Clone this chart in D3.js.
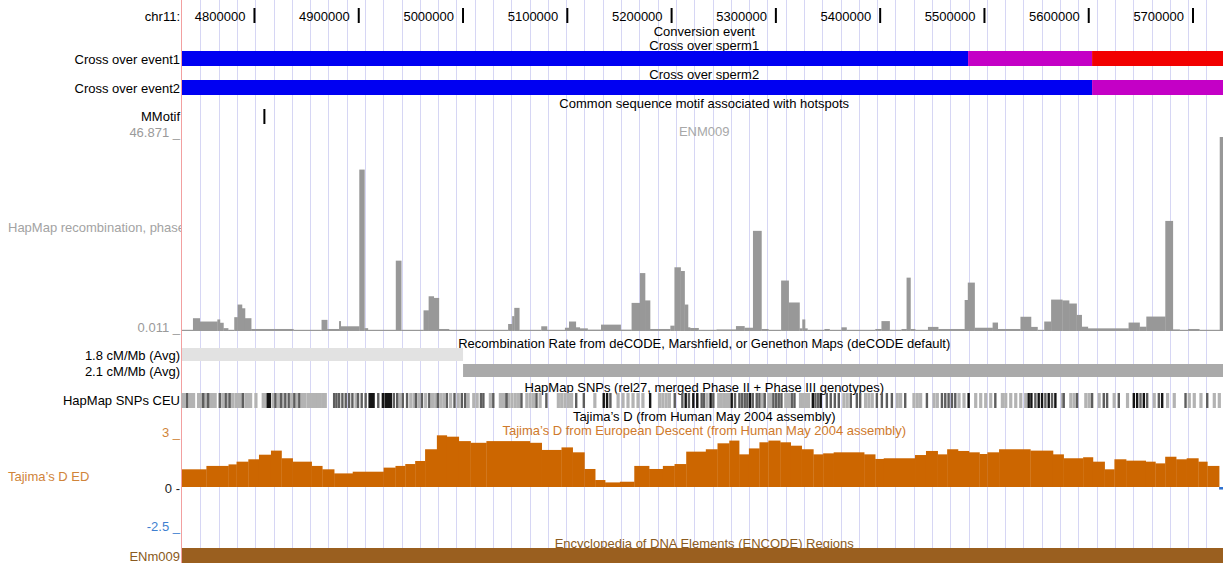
<!DOCTYPE html>
<html>
<head>
<meta charset="utf-8">
<script src="https://cdn.jsdelivr.net/npm/d3@7"></script>
<style>
  body { margin: 0; background: #fff; }
  svg { display: block; }
  text { font-family: "Liberation Sans", Arial, Helvetica, sans-serif; font-size: 13px; }
</style>
</head>
<body>
<svg id="chart" width="1223" height="563"></svg>
<script>
// ---------------- DATA ----------------
const chrom = "chr11";
const regionStart = 4730996;
const regionEnd = 5732587;
const axisTicks = [4800000, 4900000, 5000000, 5100000, 5200000, 5300000, 5400000, 5500000, 5600000, 5700000];

// Cross-over tracks (segment starts in bp, state of each segment)
const cross1Starts = [4730996, 5484800, 5603700];
const cross1States = ["parental", "conversion", "crossover"];
const cross2Starts = [4730996, 5603700];
const cross2States = ["parental", "conversion"];

// Common sequence motif associated with hotspots
const motifSites = [4810000];

// HapMap recombination rate (bin starts in kb, values)
const recombStartsKb = [4731.0, 4741.5, 4748.0, 4764.9, 4767.4, 4770.7, 4775.2, 4781.1, 4784.3, 4788.5,
  4791.4, 4797.3, 4837.8, 4864.8, 4870.2, 4881.6, 4883.2, 4901.0, 4905.9, 4909.2,
  4936.0, 4941.2, 4962.6, 4967.5, 4972.4, 4977.3, 4987.0, 5043.7, 5047.6, 5049.6,
  5054.4, 5075.5, 5081.0, 5098.2, 5102.1, 5108.6, 5112.4, 5119.9, 5132.8, 5151.6,
  5162.1, 5170.1, 5175.0, 5179.8, 5199.3, 5203.2, 5209.1, 5212.9, 5216.2, 5218.2,
  5226.3, 5243.6, 5262.2, 5270.3, 5278.5, 5286.6, 5293.2, 5305.5, 5312.7, 5323.1,
  5325.8, 5328.4, 5330.7, 5347.0, 5351.9, 5363.3, 5368.2, 5395.8, 5401.7, 5409.5,
  5420.9, 5425.8, 5429.5, 5434.0, 5446.3, 5456.1, 5481.5, 5484.5, 5491.0, 5508.3,
  5513.2, 5535.0, 5545.1, 5551.3, 5557.8, 5564.4, 5575.1, 5581.6, 5588.8, 5593.7,
  5599.6, 5638.7, 5649.2, 5655.7, 5673.9, 5681.1, 5687.6, 5695.8, 5706.5, 5726.1];
const recombValues = [0.3, 3.1, 2.3, 2.8, 2.0, 0.7, 0.05, 3.35, 6.4, 5.5,
  3.1, 0.5, 0.1, 2.7, 0.5, 2.4, 1.15, 39.0, 0.7, 0.1,
  17.0, 0.1, 5.0, 8.4, 8.0, 0.5, 0.05, 1.7, 3.6, 5.6,
  0.2, 1.15, 0.1, 0.8, 2.3, 0.9, 0.65, 0.35, 1.55, 0.35,
  6.8, 14.0, 7.4, 0.5, 1.3, 15.4, 14.5, 6.4, 0.9, 0.74,
  0.08, 0.4, 1.2, 0.8, 24.2, 0.5, 0.1, 12.2, 6.9, 0.65,
  2.8, 0.65, 0.1, 0.5, 0.1, 0.9, 0.1, 0.5, 2.4, 0.1,
  0.5, 12.9, 0.5, 0.25, 1.0, 0.5, 7.5, 11.7, 0.8, 2.05,
  0.5, 3.45, 1.0, 0.25, 2.3, 7.6, 7.4, 6.65, 3.9, 1.05,
  0.65, 2.05, 1.05, 3.5, 26.6, 0.4, 0.1, 0.5, 0.1, 46.871];
const recombMin = 0.011, recombMax = 46.871;

// deCODE recombination rate averages
const decodeLabels = ["1.8 cM/Mb (Avg)", "2.1 cM/Mb (Avg)"];
const decodeRates = [1.8, 2.1];
const decodeStarts = [4730996, 5000500];
const decodeEnds = [5000500, 5732587];

// HapMap SNPs CEU (positions in kb, shade 0 = light, 1 = dark, 2 = black)
const snpKb = [4731.6, 4732.9, 4734.2, 4736.1, 4738.6, 4740.2, 4741.8, 4746.6, 4748.2, 4749.8,
  4751.4, 4753.0, 4754.5, 4756.1, 4757.7, 4759.3, 4760.9, 4762.5, 4767.3, 4769.8,
  4773.0, 4775.2, 4776.8, 4779.3, 4782.5, 4784.7, 4787.0, 4789.5, 4792.1, 4794.3,
  4796.5, 4801.6, 4808.6, 4811.1, 4813.4, 4814.3, 4815.3, 4818.1, 4820.7, 4823.2,
  4826.1, 4828.3, 4830.2, 4833.4, 4835.6, 4838.8, 4841.0, 4843.6, 4846.1, 4848.4,
  4851.5, 4853.8, 4856.3, 4858.8, 4861.1, 4863.3, 4865.8, 4868.1, 4877.0, 4879.2,
  4881.7, 4884.9, 4888.1, 4891.3, 4894.5, 4897.6, 4899.9, 4903.4, 4907.2, 4911.0,
  4912.3, 4913.5, 4914.8, 4919.3, 4923.7, 4926.3, 4927.5, 4928.8, 4930.1, 4931.3,
  4934.2, 4937.4, 4939.6, 4942.8, 4946.9, 4950.1, 4953.3, 4955.5, 4958.1, 4961.2,
  4964.4, 4968.2, 4970.8, 4974.0, 4976.5, 4979.0, 4981.9, 4985.1, 4988.3, 4992.4,
  4995.6, 4999.4, 5002.6, 5005.1, 5010.5, 5013.7, 5017.8, 5020.1, 5026.4, 5029.6,
  5036.0, 5038.2, 5040.7, 5042.3, 5043.9, 5047.1, 5050.3, 5053.5, 5056.6, 5061.4,
  5064.6, 5067.8, 5071.0, 5074.1, 5080.5, 5091.6, 5094.8, 5098.0, 5101.2, 5104.3,
  5109.1, 5116.4, 5126.6, 5135.5, 5138.7, 5141.9, 5148.9, 5153.6, 5158.4, 5163.2,
  5168.0, 5172.7, 5180.0, 5188.6, 5191.8, 5195.0, 5198.1, 5203.6, 5210.9, 5214.1,
  5217.2, 5221.4, 5225.2,
  5229.4, 5231.6, 5234.2, 5238.0, 5240.6, 5245.4, 5247.6, 5250.2, 5252.8, 5255.0,
  5258.2, 5261.4, 5265.6, 5268.1, 5270.7, 5273.2, 5275.8, 5278.4, 5282.2, 5284.8,
  5287.3, 5289.9, 5293.4, 5295.6, 5298.2, 5300.8, 5303.3, 5305.9, 5309.7, 5312.3,
  5315.8, 5318.4, 5323.8, 5326.4, 5328.9, 5331.5, 5336.0, 5338.5, 5341.1, 5343.6,
  5349.4, 5353.2, 5357.1, 5360.9, 5365.4, 5368.6, 5372.4, 5378.2, 5381.4, 5386.2,
  5389.4, 5392.6, 5397.4, 5402.2, 5407.0, 5411.8, 5416.6, 5419.8, 5424.6, 5432.6,
  5435.8, 5439.0, 5445.4, 5451.8, 5455.0, 5459.8, 5463.0, 5466.2, 5469.4, 5472.6,
  5475.8, 5480.6, 5485.4, 5491.8, 5496.6, 5501.4, 5506.2, 5511.0, 5517.4, 5520.6,
  5525.4, 5530.2, 5535.0, 5539.8, 5543.0, 5545.6, 5549.4, 5552.6, 5555.8, 5559.0,
  5562.2, 5565.4, 5568.6, 5575.0, 5576.6, 5583.0, 5586.2, 5589.4, 5597.4, 5600.6,
  5603.8, 5610.2, 5615.0, 5618.2, 5624.6, 5629.4, 5637.4, 5643.8, 5647.0, 5650.2,
  5653.4, 5656.6, 5663.0, 5667.8, 5671.0, 5675.8, 5682.2, 5693.4, 5696.6, 5701.4,
  5707.8, 5714.2, 5720.6, 5725.4];
const snpShade = [0, 0, 0, 1, 0, 0, 0, 0, 0, 0,
  1, 0, 0, 1, 0, 0, 0, 0, 1, 0,
  1, 0, 1, 0, 0, 0, 0, 1, 0, 0,
  0, 0, 0, 0, 2, 2, 2, 0, 1, 0,
  1, 0, 1, 1, 0, 1, 0, 1, 0, 0,
  0, 0, 0, 0, 0, 0, 0, 0, 1, 1,
  1, 1, 1, 1, 1, 0, 1, 1, 1, 2,
  2, 2, 2, 1, 2, 2, 2, 2, 2, 2,
  1, 1, 0, 1, 1, 0, 0, 1, 0, 1,
  0, 1, 0, 0, 1, 0, 0, 1, 0, 1,
  0, 1, 1, 0, 0, 0, 1, 1, 0, 1,
  0, 0, 0, 1, 0, 0, 0, 0, 1, 0,
  0, 0, 1, 0, 1, 0, 0, 0, 0, 0,
  1, 1, 0, 2, 2, 1, 0, 0, 0, 0,
  0, 0, 2, 0, 0, 0, 0, 1, 1, 2,
  1, 2, 2,
  1, 1, 0, 2, 1, 0, 0, 0, 0, 0,
  2, 1, 1, 1, 1, 1, 2, 1, 1, 1,
  0, 1, 0, 0, 1, 1, 1, 1, 0, 0,
  1, 1, 0, 0, 0, 0, 2, 1, 1, 2,
  1, 1, 1, 1, 0, 0, 1, 1, 1, 0,
  0, 0, 1, 1, 1, 1, 0, 0, 1, 0,
  0, 0, 1, 0, 0, 1, 1, 1, 1, 1,
  0, 0, 2, 0, 0, 0, 0, 1, 0, 0,
  0, 0, 0, 0, 2, 2, 1, 2, 2, 1,
  2, 1, 2, 0, 1, 0, 0, 1, 0, 0,
  1, 0, 1, 1, 0, 1, 0, 2, 2, 1,
  2, 1, 0, 1, 2, 0, 0, 1, 0, 0,
  0, 1, 0, 0];

// Tajima's D, European descent (bin starts in kb, values)
const tajimaStartsKb = [4731.0, 4754.4, 4775.6, 4783.3, 4794.6, 4804.8, 4816.3, 4826.4, 4837.1, 4855.3,
  4865.5, 4876.9, 4894.7, 4924.3, 4935.7, 4945.1, 4954.6, 4964.1, 4975.4, 4984.9,
  4996.4, 5007.7, 5022.9, 5064.6, 5075.9, 5094.9, 5105.6, 5116.9, 5127.2, 5136.7,
  5150.9, 5164.7, 5178.9, 5192.1, 5203.3, 5214.5, 5233.3, 5244.5, 5255.8, 5265.2,
  5274.6, 5284.7, 5293.3, 5304.6, 5314.7, 5325.2, 5336.4, 5345.8, 5355.9, 5385.1,
  5395.7, 5403.9, 5433.9, 5444.4, 5455.6, 5464.7, 5475.1, 5485.6, 5495.7, 5503.3,
  5514.5, 5544.5, 5566.2, 5576.4, 5595.1, 5604.5, 5615.7, 5625.1, 5636.3, 5655.1,
  5664.4, 5673.8, 5684.3, 5694.4, 5705.6, 5714.2, 5725.5];
const tajimaValues = [1.04, 1.24, 1.33, 1.49, 1.63, 1.9, 2.14, 1.69, 1.49, 1.24,
  1.04, 0.8, 0.9, 1.14, 1.24, 1.35, 1.53, 2.22, 3.04, 2.96,
  2.7, 2.6, 2.7, 2.6, 2.18, 2.33, 2.04, 1.06, 0.41, 0.27,
  0.31, 1.24, 1.06, 1.24, 1.35, 2.08, 2.22, 2.57, 2.73, 1.92,
  2.27, 2.63, 2.73, 2.63, 2.43, 2.22, 1.92, 1.98, 2.04, 1.92,
  1.65, 1.69, 1.88, 2.12, 1.92, 2.22, 2.12, 2.04, 1.94, 2.04,
  2.22, 2.14, 1.92, 1.69, 1.75, 1.49, 1.04, 1.63, 1.55, 1.49,
  1.39, 1.78, 1.63, 1.69, 1.49, 1.24, -0.15];
const tajimaMax = 3, tajimaMin = -2.5;

// ENCODE region
const encodeNames = ["ENm009"];
const encodeStarts = [4730996];
const encodeEnds = [5732587];

// ---------------- DRAWING ----------------
const W = 1223, H = 563;
const svg = d3.select("#chart");
const x = d3.scaleLinear().domain([regionStart, regionEnd]).range([182, 1226.5]);
const midX = (x.range()[0] + x.range()[1]) / 2;
const FONT = '"Liberation Sans", Arial, Helvetica, sans-serif';

const defs = svg.append("defs");
defs.append("clipPath").attr("id", "leftClip").append("rect").attr("x", 0).attr("y", 0).attr("width", 181).attr("height", H);

// guidelines (every ~17.5 kb)
const guides = d3.range(4748641, regionEnd, 17539);
svg.append("g").selectAll("line").data(guides).join("line")
  .attr("x1", d => Math.round(x(d)) + 0.5).attr("x2", d => Math.round(x(d)) + 0.5)
  .attr("y1", 0).attr("y2", H)
  .attr("stroke", "#d6d6f4").attr("stroke-width", 1);

// left boundary line
svg.append("line").attr("x1", 181.5).attr("x2", 181.5).attr("y1", 0).attr("y2", H)
  .attr("stroke", "#f2a0a0").attr("stroke-width", 1);

function label(txt, xp, yp, opts = {}) {
  return svg.append("text").attr("x", xp).attr("y", yp)
    .attr("dy", "0.35em")
    .attr("text-anchor", opts.anchor || "end")
    .attr("fill", opts.color || "#000")
    .attr("font-size", opts.size || 13)
    .attr("clip-path", opts.clip || null)
    .text(txt);
}
function title(txt, yp, color) { return label(txt, midX, yp, { anchor: "middle", color: color || "#000" }); }

// Ruler
label(chrom + ":", 180, 16);
const axisG = svg.append("g").attr("transform", "translate(0,23)")
  .call(d3.axisTop(x).tickValues(axisTicks).tickFormat(d3.format("d")).tickSize(15).tickPadding(0));
axisG.select(".domain").remove();
axisG.selectAll(".tick line").attr("stroke", "#000").attr("stroke-width", 2);
axisG.selectAll(".tick text").attr("text-anchor", "end").attr("x", -9).attr("y", -7).attr("dy", "0.35em")
  .attr("font-size", 13).attr("font-family", FONT).attr("fill", "#000");

// Cross-over tracks
const stateColor = { parental: "#0000f2", conversion: "#c400c6", crossover: "#f20000" };
title("Conversion event", 31);
title("Cross over sperm1", 45);
label("Cross over event1", 180, 59);
const c1 = cross1Starts.map((s, i) => ({ s, e: i + 1 < cross1Starts.length ? cross1Starts[i + 1] : regionEnd, st: cross1States[i] }));
svg.append("g").selectAll("rect").data(c1).join("rect")
  .attr("x", d => x(d.s)).attr("width", d => x(d.e) - x(d.s))
  .attr("y", 51).attr("height", 15).attr("fill", d => stateColor[d.st]);
title("Cross over sperm2", 74);
label("Cross over event2", 180, 88);
const c2 = cross2Starts.map((s, i) => ({ s, e: i + 1 < cross2Starts.length ? cross2Starts[i + 1] : regionEnd, st: cross2States[i] }));
svg.append("g").selectAll("rect").data(c2).join("rect")
  .attr("x", d => x(d.s)).attr("width", d => x(d.e) - x(d.s))
  .attr("y", 80).attr("height", 15).attr("fill", d => stateColor[d.st]);

// Motif
title("Common sequence motif associated with hotspots", 103);
label("MMotif", 180, 116);
svg.append("g").selectAll("rect").data(motifSites).join("rect")
  .attr("x", d => x(d) - 1).attr("width", 2).attr("y", 109).attr("height", 15).attr("fill", "#000");

// HapMap recombination histogram
const yR = d3.scaleLinear().domain([recombMin, recombMax]).range([331, 137]).clamp(true);
label("46.871 _", 180, 132, { color: "#9a9a9a" });
label("0.011 _", 180, 327, { color: "#9a9a9a" });
label("ENM009", midX, 131, { anchor: "middle", color: "#a8a8a8" });
label("HapMap recombination, phase", 8, 227, { anchor: "start", color: "#a3a3a3", clip: "url(#leftClip)" });
const rb = recombStartsKb.map((s, i) => ({
  s: s * 1000, e: i + 1 < recombStartsKb.length ? recombStartsKb[i + 1] * 1000 : regionEnd, v: recombValues[i]
}));
svg.append("g").selectAll("rect").data(rb).join("rect")
  .attr("x", d => x(d.s)).attr("width", d => x(d.e) - x(d.s) + 0.3)
  .attr("y", d => Math.min(yR(d.v), yR(recombMin) - 1.2))
  .attr("height", d => Math.max(yR(recombMin) - yR(d.v), 1.2))
  .attr("fill", "#989898");

// deCODE recombination rate
title("Recombination Rate from deCODE, Marshfield, or Genethon Maps (deCODE default)", 343);
const rateShade = d3.scaleLinear().domain([1.8, 2.1]).range(["#e2e2e2", "#aaaaaa"]);
decodeRates.forEach((r, i) => {
  label(decodeLabels[i], 180, 355 + i * 16);
  svg.append("rect").attr("x", x(decodeStarts[i])).attr("width", x(decodeEnds[i]) - x(decodeStarts[i]))
    .attr("y", 348 + i * 16).attr("height", 13).attr("fill", rateShade(r));
});

// HapMap SNPs
title("HapMap SNPs (rel27, merged Phase II + Phase III genotypes)", 387);
label("HapMap SNPs CEU", 180, 400);
const shadeColor = ["#b3b3b3", "#5e5e5e", "#151515"];
const snps = snpKb.map((p, i) => ({ p: p * 1000, s: snpShade[i] }));
svg.append("g").selectAll("rect").data(snps.filter(d => d.s === 0).concat(snps.filter(d => d.s > 0)))
  .join("rect")
  .attr("x", d => x(d.p) - 1.3).attr("width", d => d.s === 0 ? 3.2 : 2.4)
  .attr("y", 393).attr("height", 15).attr("fill", d => shadeColor[d.s]);

// Tajima's D
title("Tajima\u2019s D (from Human May 2004 assembly)", 416);
title("Tajima\u2019s D from European Descent (from Human May 2004 assembly)", 430, "#cf7a2c");
const yT = d3.scaleLinear().domain([tajimaMin, tajimaMax]).range([529.5, 436]);
label("3 _", 180, 432, { color: "#d0843a" });
label("0 -", 180, yT(0) + 1, { color: "#222" });
label("-2.5 _", 180, 526, { color: "#3f7fd0" });
label("Tajima\u2019s D ED", 8, 476, { anchor: "start", color: "#d0843a" });
const tb = tajimaStartsKb.map((s, i) => ({
  s: s * 1000, e: i + 1 < tajimaStartsKb.length ? tajimaStartsKb[i + 1] * 1000 : regionEnd, v: tajimaValues[i]
}));
svg.append("g").selectAll("rect").data(tb).join("rect")
  .attr("x", d => x(d.s)).attr("width", d => x(d.e) - x(d.s) + 0.3)
  .attr("y", d => Math.min(yT(d.v), yT(0)))
  .attr("height", d => Math.max(Math.abs(yT(0) - yT(d.v)), 2))
  .attr("fill", d => d.v >= 0 ? "#cc6600" : "#2f72d0");

// ENCODE regions
title("Encyclopedia of DNA Elements (ENCODE) Regions", 543, "#8a5a20");
encodeNames.forEach((n, i) => {
  label(n, 180, 556, { color: "#8a5a20" });
  svg.append("rect").attr("x", x(encodeStarts[i])).attr("width", x(encodeEnds[i]) - x(encodeStarts[i]))
    .attr("y", 548).attr("height", 16).attr("fill", "#9a5f1f");
});
</script>
</body>
</html>
